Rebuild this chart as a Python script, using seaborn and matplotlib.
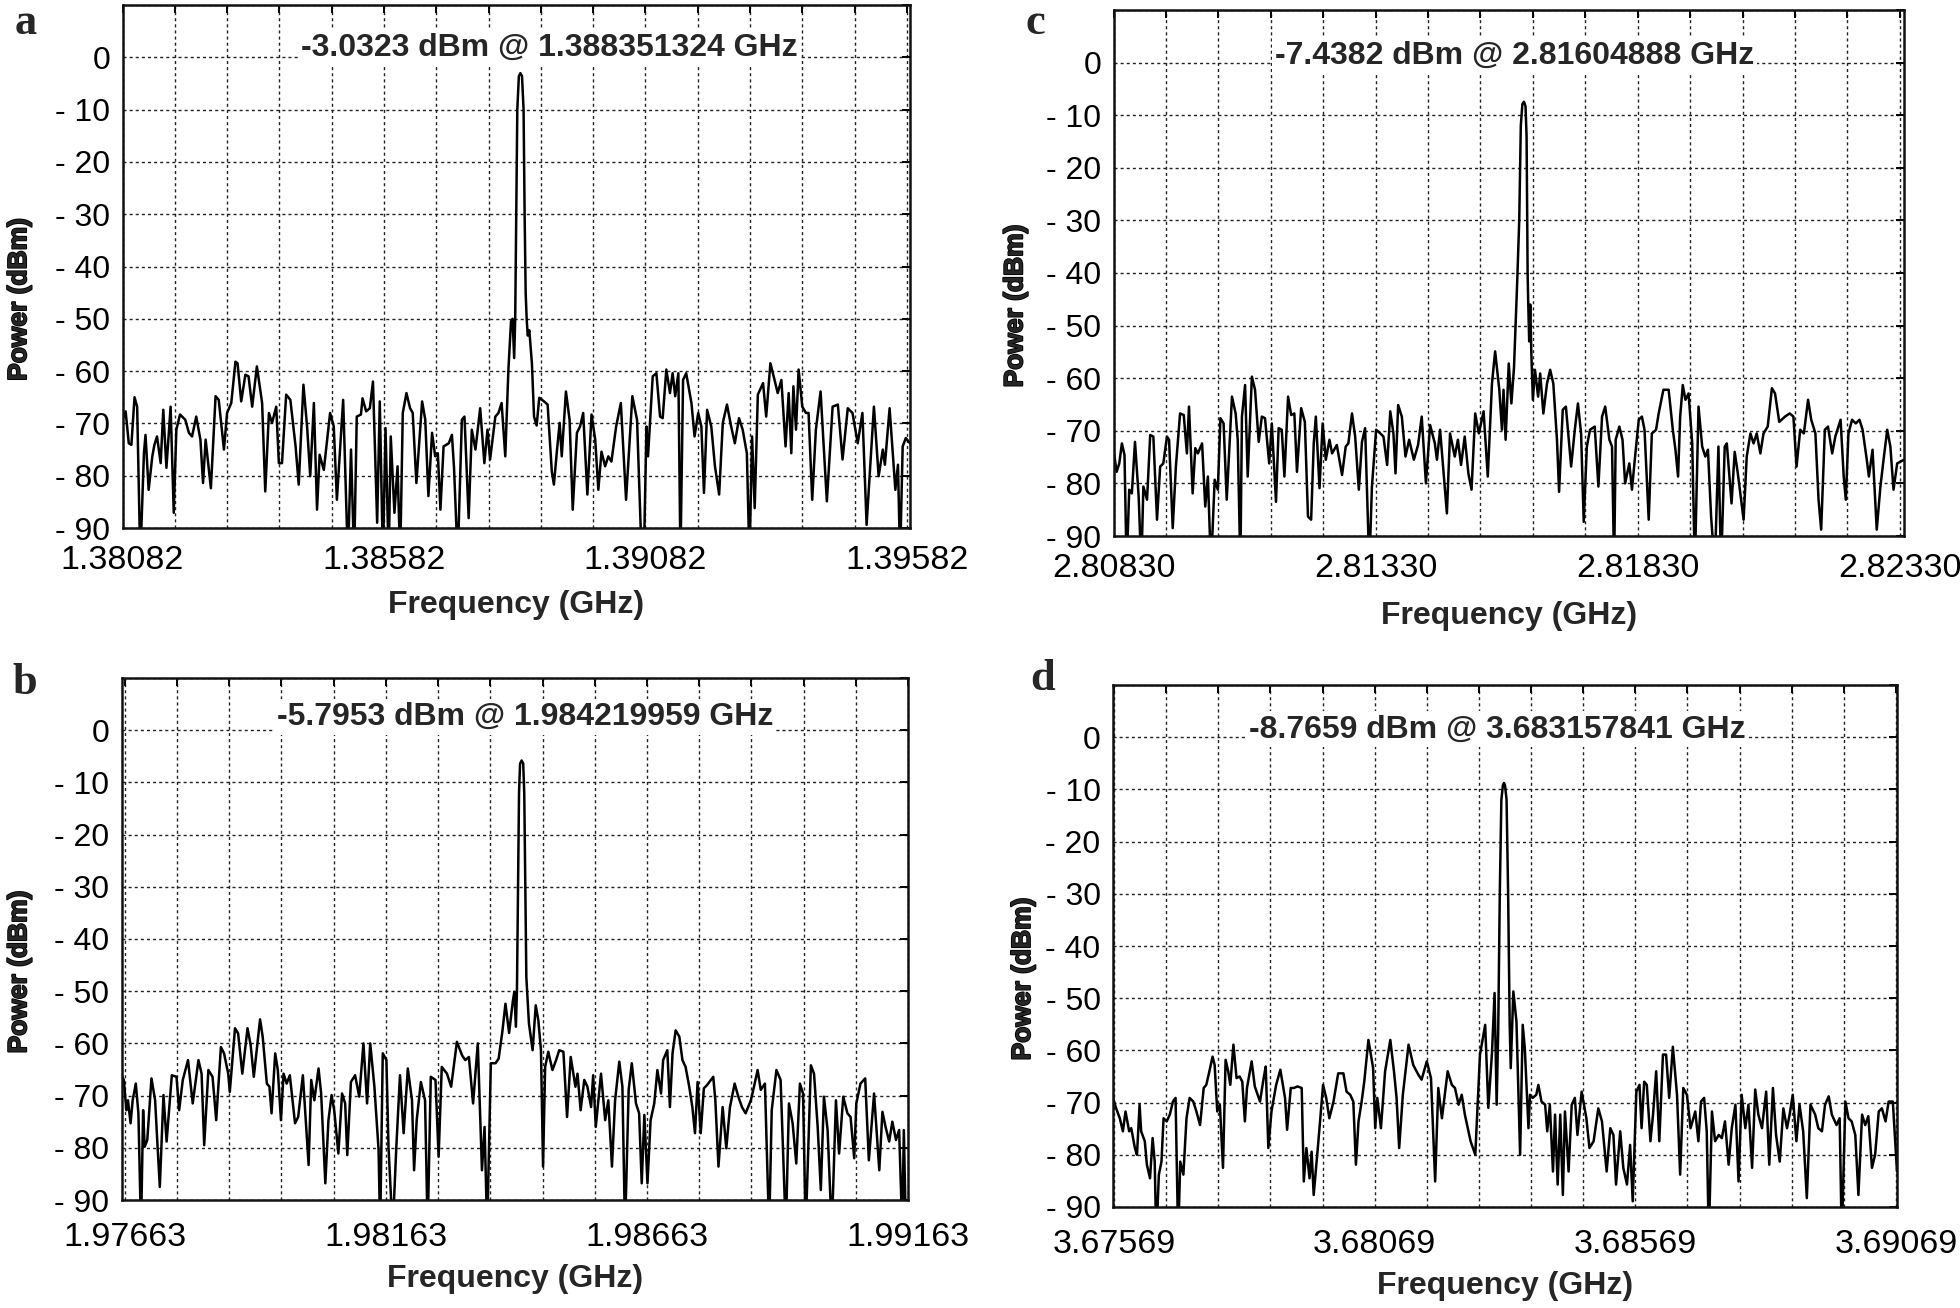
import numpy as np
import matplotlib
matplotlib.use("Agg")
import matplotlib.pyplot as plt
import matplotlib.patheffects as pe
import seaborn as sns

# start frequency of each span (GHz); trace offsets are in MHz from that start
start_a = 1.38082
start_b = 1.97663
start_c = 2.80830
start_d = 3.67569

label_a = "-3.0323 dBm @ 1.388351324 GHz"
label_b = "-5.7953 dBm @ 1.984219959 GHz"
label_c = "-7.4382 dBm @ 2.81604888 GHz"
label_d = "-8.7659 dBm @ 3.683157841 GHz"

# (offset MHz, power dBm); -96 = dip below the -90 floor
trace_a = [
    (0.00, -69.3), (0.06, -67.7), (0.12, -73.8), (0.17, -74.1), (0.23, -65.0), (0.28, -66.8),
    (0.34, -96), (0.41, -75.7), (0.44, -72.2), (0.50, -82.7), (0.57, -76.3), (0.61, -74.1),
    (0.66, -72.5), (0.73, -77.6), (0.78, -67.4), (0.84, -78.5), (0.92, -66.8), (0.98, -87.1),
    (1.03, -71.2), (1.10, -68.3), (1.20, -69.3), (1.27, -71.8), (1.33, -72.5), (1.41, -68.7),
    (1.49, -73.1), (1.54, -81.4), (1.59, -73.1), (1.63, -76.9), (1.69, -82.4), (1.78, -64.8),
    (1.84, -65.5), (1.94, -75.0), (2.00, -68.0), (2.08, -66.1), (2.16, -58.2), (2.20, -58.5),
    (2.27, -65.8), (2.35, -60.7), (2.41, -61.0), (2.48, -66.8), (2.57, -59.1), (2.67, -66.1),
    (2.73, -83.0), (2.80, -68.0), (2.86, -69.9), (2.94, -66.8), (2.99, -77.6), (3.05, -77.6),
    (3.13, -64.5), (3.21, -65.5), (3.31, -74.4), (3.37, -81.7), (3.46, -62.6), (3.53, -70.6),
    (3.59, -80.1), (3.66, -66.1), (3.72, -86.5), (3.77, -76.0), (3.85, -78.9), (3.90, -74.4),
    (3.97, -68.0), (4.04, -70.6), (4.10, -84.6), (4.22, -65.5), (4.31, -96), (4.37, -75.0),
    (4.43, -96), (4.48, -68.7), (4.56, -68.3), (4.59, -65.2), (4.66, -67.7), (4.73, -67.1),
    (4.79, -62.0), (4.87, -89.0), (4.92, -65.8), (4.98, -96), (5.03, -70.9), (5.09, -96),
    (5.13, -72.5), (5.20, -87.1), (5.26, -78.2), (5.31, -96), (5.36, -68.0), (5.43, -64.2),
    (5.50, -67.1), (5.55, -68.0), (5.62, -81.4), (5.73, -65.8), (5.79, -69.3), (5.85, -83.9),
    (5.92, -71.8), (5.98, -76.3), (6.03, -75.7), (6.08, -86.5), (6.14, -74.4), (6.24, -73.8),
    (6.30, -72.2), (6.34, -78.5), (6.41, -96), (6.49, -69.3), (6.54, -68.7), (6.62, -88.1),
    (6.68, -71.2), (6.75, -75.0), (6.84, -67.1), (6.92, -77.6), (6.98, -71.2), (7.03, -76.9),
    (7.13, -68.7), (7.19, -68.0), (7.25, -66.1), (7.32, -76.3), (7.38, -59.7), (7.43, -50.5),
    (7.46, -50.0), (7.49, -57.5), (7.51, -50.0), (7.53, -30.0), (7.55, -10.0), (7.58, -3.6),
    (7.61, -3.03), (7.64, -3.6), (7.67, -10.0), (7.69, -30.0), (7.71, -45.0), (7.73, -50.2),
    (7.75, -53.2), (7.78, -52.2), (7.83, -58.6), (7.87, -68.7), (7.92, -70.4), (7.97, -65.1),
    (8.05, -65.7), (8.13, -66.4), (8.21, -79.2), (8.25, -81.7), (8.31, -75.0), (8.36, -69.9),
    (8.40, -76.3), (8.48, -63.9), (8.55, -69.3), (8.61, -86.5), (8.69, -71.8), (8.75, -70.6),
    (8.81, -68.0), (8.89, -83.6), (8.97, -68.3), (9.04, -73.1), (9.10, -82.7), (9.16, -75.4),
    (9.23, -78.2), (9.29, -76.3), (9.35, -77.3), (9.44, -70.6), (9.53, -66.1), (9.63, -84.6),
    (9.75, -64.8), (9.84, -69.3), (9.93, -96), (9.97, -96), (10.02, -70.6), (10.05, -76.3),
    (10.14, -61.0), (10.21, -60.4), (10.28, -68.7), (10.33, -69.0), (10.40, -59.7), (10.47, -64.2),
    (10.52, -60.4), (10.57, -64.8), (10.63, -60.4), (10.67, -96), (10.72, -61.7), (10.78, -60.4),
    (10.88, -66.1), (10.94, -72.5), (11.01, -68.0), (11.07, -70.6), (11.12, -83.3), (11.18, -67.4),
    (11.26, -70.6), (11.33, -78.2), (11.41, -83.6), (11.48, -69.9), (11.56, -66.4), (11.64, -70.6),
    (11.71, -73.8), (11.79, -69.0), (11.86, -71.2), (11.94, -75.7), (11.99, -96), (12.04, -72.5),
    (12.09, -86.2), (12.15, -64.5), (12.25, -62.3), (12.31, -68.7), (12.39, -58.5), (12.47, -61.7),
    (12.53, -64.2), (12.60, -61.7), (12.68, -74.4), (12.74, -64.2), (12.79, -75.7), (12.83, -62.9),
    (12.88, -71.2), (12.93, -59.7), (13.00, -66.8), (13.07, -68.0), (13.12, -68.0), (13.19, -84.6),
    (13.26, -71.2), (13.35, -63.9), (13.47, -84.9), (13.58, -66.8), (13.68, -66.4), (13.77, -76.9),
    (13.87, -67.1), (13.96, -68.0), (14.06, -73.8), (14.15, -68.0), (14.23, -89.4), (14.37, -66.8),
    (14.46, -80.1), (14.54, -75.0), (14.58, -77.9), (14.67, -67.1), (14.78, -82.7), (14.83, -77.9),
    (14.87, -96), (14.92, -74.4), (14.98, -72.8), (15.06, -73.8),
]

trace_b = [
    (-0.06, -66.1), (-0.02, -67.0), (0.03, -72.8), (0.06, -70.9), (0.11, -75.3), (0.15, -70.9),
    (0.21, -67.7), (0.26, -73.4), (0.31, -96), (0.35, -72.8), (0.38, -79.8), (0.43, -78.5),
    (0.51, -66.7), (0.58, -70.9), (0.62, -78.5), (0.67, -87.5), (0.74, -69.9), (0.80, -78.8),
    (0.90, -66.1), (0.99, -66.4), (1.04, -72.8), (1.11, -67.0), (1.21, -63.2), (1.30, -71.5),
    (1.41, -63.2), (1.47, -65.8), (1.52, -79.5), (1.60, -65.1), (1.68, -66.4), (1.75, -74.7),
    (1.84, -60.7), (1.90, -61.9), (1.98, -65.8), (2.01, -69.3), (2.11, -57.1), (2.17, -58.1),
    (2.25, -65.8), (2.35, -57.1), (2.41, -60.3), (2.47, -66.4), (2.59, -55.4), (2.64, -58.7),
    (2.72, -67.7), (2.77, -68.3), (2.81, -73.4), (2.88, -61.9), (2.93, -65.1), (2.99, -74.7),
    (3.04, -65.8), (3.10, -67.7), (3.16, -66.1), (3.26, -75.3), (3.32, -74.1), (3.41, -66.1),
    (3.52, -83.3), (3.57, -67.0), (3.63, -70.9), (3.71, -64.8), (3.76, -69.6), (3.84, -86.8),
    (3.90, -74.7), (3.96, -69.9), (4.01, -72.8), (4.09, -81.1), (4.16, -69.6), (4.22, -71.5),
    (4.26, -81.4), (4.33, -67.4), (4.41, -66.1), (4.49, -70.2), (4.57, -60.0), (4.64, -71.5),
    (4.70, -60.0), (4.78, -68.3), (4.86, -80.4), (4.89, -96), (4.94, -61.9), (5.01, -63.2),
    (5.05, -79.8), (5.13, -96), (5.20, -79.8), (5.27, -66.1), (5.34, -77.2), (5.42, -64.8),
    (5.50, -70.9), (5.54, -84.3), (5.59, -74.7), (5.67, -67.4), (5.75, -70.9), (5.80, -96),
    (5.86, -66.4), (5.95, -67.0), (6.01, -81.7), (6.07, -64.5), (6.17, -65.8), (6.25, -68.3),
    (6.36, -59.7), (6.46, -62.3), (6.52, -63.2), (6.59, -62.6), (6.67, -71.5), (6.76, -60.0),
    (6.84, -84.3), (6.89, -76.0), (6.94, -96), (7.01, -63.8), (7.10, -63.8), (7.16, -62.9),
    (7.23, -57.8), (7.29, -52.4), (7.36, -58.0), (7.43, -52.0), (7.46, -50.1), (7.49, -56.8),
    (7.51, -50.0), (7.53, -30.0), (7.55, -12.0), (7.57, -6.4), (7.60, -5.80), (7.63, -6.4),
    (7.65, -12.0), (7.67, -30.0), (7.69, -47.3), (7.74, -56.2), (7.81, -61.3), (7.87, -52.7),
    (7.92, -55.6), (7.97, -61.3), (8.01, -83.6), (8.05, -64.5), (8.11, -61.6), (8.19, -65.1),
    (8.26, -63.2), (8.32, -61.3), (8.40, -61.6), (8.47, -74.1), (8.54, -62.6), (8.63, -68.3),
    (8.67, -65.8), (8.73, -72.8), (8.80, -67.0), (8.86, -68.3), (8.93, -72.2), (8.97, -66.1),
    (9.02, -76.0), (9.12, -65.8), (9.20, -74.7), (9.26, -70.9), (9.33, -83.6), (9.39, -70.9),
    (9.47, -63.5), (9.53, -68.3), (9.58, -96), (9.65, -68.9), (9.71, -63.8), (9.79, -71.5),
    (9.85, -73.4), (9.90, -86.8), (9.95, -73.7), (10.01, -86.8), (10.07, -74.7), (10.14, -71.5),
    (10.20, -65.1), (10.27, -69.6), (10.31, -63.2), (10.39, -61.3), (10.44, -72.2), (10.49, -61.9),
    (10.55, -57.5), (10.62, -58.7), (10.68, -63.2), (10.74, -64.5), (10.81, -68.3), (10.87, -72.2),
    (10.92, -77.2), (10.97, -67.4), (11.03, -77.2), (11.09, -68.6), (11.15, -68.0), (11.27, -66.4),
    (11.31, -70.9), (11.37, -83.6), (11.45, -72.2), (11.52, -80.1), (11.59, -72.2), (11.68, -67.7),
    (11.75, -70.2), (11.82, -72.2), (11.89, -73.4), (11.99, -70.9), (12.05, -68.3), (12.12, -65.1),
    (12.18, -68.9), (12.26, -67.7), (12.34, -96), (12.39, -72.8), (12.48, -65.1), (12.56, -67.0),
    (12.66, -96), (12.72, -71.5), (12.79, -75.3), (12.86, -83.0), (12.93, -67.7), (12.99, -69.6),
    (13.04, -96), (13.14, -64.2), (13.20, -65.8), (13.27, -76.0), (13.33, -88.1), (13.39, -70.2),
    (13.46, -76.6), (13.54, -96), (13.62, -70.9), (13.68, -81.1), (13.76, -70.2), (13.84, -73.4),
    (13.90, -74.1), (13.97, -82.0), (14.01, -71.5), (14.09, -67.7), (14.18, -66.7), (14.25, -82.4),
    (14.35, -69.6), (14.45, -84.3), (14.51, -73.1), (14.57, -76.0), (14.64, -78.8), (14.70, -75.0),
    (14.77, -78.5), (14.83, -76.6), (14.89, -96), (14.92, -76.6), (14.96, -96),
]

trace_c = [
    (0.00, -73.6), (0.06, -77.8), (0.11, -76.2), (0.16, -72.4), (0.21, -74.6), (0.25, -96),
    (0.30, -81.2), (0.35, -81.9), (0.41, -72.1), (0.48, -82.5), (0.53, -96), (0.57, -80.6),
    (0.64, -83.1), (0.70, -70.8), (0.76, -71.1), (0.83, -86.9), (0.89, -76.8), (0.95, -76.2),
    (1.02, -71.1), (1.06, -71.7), (1.13, -88.5), (1.19, -76.8), (1.27, -66.7), (1.34, -67.0),
    (1.40, -74.3), (1.44, -65.4), (1.51, -81.9), (1.56, -73.3), (1.61, -74.3), (1.69, -72.4),
    (1.75, -84.4), (1.80, -78.7), (1.86, -96), (1.93, -79.3), (1.99, -81.2), (2.04, -67.6),
    (2.10, -68.6), (2.16, -83.1), (2.26, -63.5), (2.33, -66.7), (2.37, -71.7), (2.42, -96),
    (2.45, -67.3), (2.51, -61.3), (2.56, -78.7), (2.64, -59.7), (2.70, -62.2), (2.77, -72.1),
    (2.83, -67.3), (2.89, -67.6), (2.97, -76.2), (3.02, -68.6), (3.10, -83.5), (3.15, -69.5),
    (3.21, -69.8), (3.26, -78.7), (3.33, -63.5), (3.39, -67.0), (3.45, -66.7), (3.50, -77.8),
    (3.58, -65.7), (3.65, -68.3), (3.71, -86.3), (3.77, -86.9), (3.82, -72.4), (3.86, -67.3),
    (3.93, -80.9), (3.99, -68.6), (4.05, -75.5), (4.12, -71.7), (4.17, -74.3), (4.26, -72.7),
    (4.36, -78.4), (4.43, -73.0), (4.48, -72.4), (4.55, -66.7), (4.61, -71.1), (4.68, -81.2),
    (4.74, -72.1), (4.80, -69.5), (4.88, -96), (4.93, -80.6), (5.01, -69.8), (5.09, -70.5),
    (5.15, -71.1), (5.22, -76.5), (5.28, -66.3), (5.34, -70.5), (5.38, -78.1), (5.43, -65.1),
    (5.50, -67.3), (5.57, -74.9), (5.64, -71.7), (5.73, -75.5), (5.81, -72.7), (5.88, -67.3),
    (5.96, -80.0), (6.04, -68.9), (6.13, -72.4), (6.17, -75.5), (6.23, -69.8), (6.30, -78.4),
    (6.36, -85.7), (6.42, -70.5), (6.51, -74.9), (6.57, -71.7), (6.63, -76.5), (6.70, -71.1),
    (6.77, -78.1), (6.83, -81.2), (6.90, -66.7), (6.97, -70.5), (7.06, -66.3), (7.14, -78.7),
    (7.22, -61.0), (7.28, -54.9), (7.36, -62.2), (7.41, -69.8), (7.44, -62.2), (7.48, -71.7),
    (7.54, -57.2), (7.59, -64.8), (7.64, -58.0), (7.70, -42.0), (7.74, -30.0), (7.77, -12.0),
    (7.80, -7.9), (7.83, -7.44), (7.86, -8.3), (7.88, -14.0), (7.90, -40.0), (7.91, -45.0),
    (7.93, -53.0), (7.95, -46.0), (7.97, -55.0), (8.00, -64.1), (8.04, -58.4), (8.10, -63.5),
    (8.14, -59.1), (8.20, -66.7), (8.27, -61.0), (8.33, -58.4), (8.39, -61.0), (8.46, -71.7),
    (8.50, -81.6), (8.57, -66.0), (8.63, -65.4), (8.68, -71.1), (8.73, -76.8), (8.80, -69.8),
    (8.86, -64.8), (8.92, -70.5), (8.97, -87.3), (9.03, -73.0), (9.09, -69.8), (9.18, -69.2),
    (9.25, -80.6), (9.32, -67.3), (9.38, -65.4), (9.46, -71.7), (9.51, -73.0), (9.55, -96),
    (9.58, -71.7), (9.65, -69.2), (9.71, -71.7), (9.76, -80.0), (9.84, -76.2), (9.89, -81.2),
    (9.95, -74.9), (10.02, -67.9), (10.08, -67.3), (10.13, -69.8), (10.21, -86.9), (10.27, -70.5),
    (10.35, -69.8), (10.40, -66.7), (10.49, -62.2), (10.59, -62.2), (10.67, -69.8), (10.72, -73.6),
    (10.77, -78.7), (10.81, -67.3), (10.86, -61.3), (10.91, -64.1), (10.97, -62.9), (11.04, -72.4),
    (11.09, -96), (11.16, -65.4), (11.23, -73.0), (11.29, -74.9), (11.34, -73.6), (11.40, -86.3),
    (11.47, -96), (11.54, -73.0), (11.59, -96), (11.66, -73.0), (11.70, -72.4), (11.79, -83.8),
    (11.85, -74.0), (11.91, -78.1), (11.98, -83.8), (12.02, -86.9), (12.08, -74.9), (12.15, -70.5),
    (12.21, -72.4), (12.27, -70.5), (12.34, -74.3), (12.40, -70.5), (12.48, -69.2), (12.56, -61.9),
    (12.62, -62.9), (12.70, -68.3), (12.81, -67.3), (12.90, -66.7), (12.97, -67.3), (13.03, -76.8),
    (13.10, -69.8), (13.17, -70.5), (13.25, -64.1), (13.31, -67.9), (13.39, -70.5), (13.45, -83.1),
    (13.50, -88.8), (13.57, -69.8), (13.63, -69.2), (13.71, -74.3), (13.77, -71.1), (13.87, -67.9),
    (13.93, -78.7), (13.97, -83.1), (14.02, -70.5), (14.09, -67.9), (14.16, -68.6), (14.23, -67.9),
    (14.29, -69.8), (14.37, -75.5), (14.41, -78.7), (14.48, -73.6), (14.56, -88.8), (14.63, -80.6),
    (14.69, -75.5), (14.76, -69.8), (14.82, -73.0), (14.88, -81.2), (14.95, -76.2), (15.08, -75.5),
]

trace_d = [
    (-0.02, -69.1), (0.04, -71.1), (0.11, -73.0), (0.17, -75.5), (0.22, -71.7), (0.29, -75.5),
    (0.33, -74.9), (0.40, -78.7), (0.44, -80.0), (0.49, -70.4), (0.52, -75.5), (0.59, -77.4),
    (0.63, -81.9), (0.69, -84.5), (0.74, -76.8), (0.78, -81.3), (0.81, -96), (0.86, -83.8),
    (0.91, -81.3), (0.95, -73.0), (1.01, -73.6), (1.07, -72.3), (1.13, -69.8), (1.18, -69.1),
    (1.23, -96), (1.27, -81.3), (1.33, -83.8), (1.39, -73.0), (1.45, -69.1), (1.52, -69.8),
    (1.58, -71.7), (1.65, -74.3), (1.72, -67.2), (1.77, -66.6), (1.82, -64.4), (1.89, -61.2),
    (1.93, -62.8), (1.98, -71.7), (2.03, -70.4), (2.09, -82.5), (2.14, -61.8), (2.19, -64.0),
    (2.23, -66.6), (2.29, -58.9), (2.35, -65.3), (2.41, -65.0), (2.46, -66.0), (2.51, -73.6),
    (2.55, -67.2), (2.64, -62.1), (2.70, -66.9), (2.80, -69.8), (2.87, -65.3), (2.91, -63.1),
    (2.96, -78.7), (3.02, -71.7), (3.11, -66.6), (3.19, -63.7), (3.28, -69.1), (3.32, -75.2),
    (3.39, -67.2), (3.45, -67.2), (3.52, -66.9), (3.60, -67.2), (3.64, -85.1), (3.69, -78.7),
    (3.75, -84.5), (3.79, -79.4), (3.83, -87.7), (3.92, -77.4), (4.01, -66.6), (4.07, -69.1),
    (4.13, -73.0), (4.21, -69.8), (4.30, -64.4), (4.40, -64.4), (4.46, -67.9), (4.53, -68.5),
    (4.59, -69.8), (4.64, -81.9), (4.69, -73.6), (4.75, -69.8), (4.80, -66.0), (4.88, -58.0),
    (4.97, -63.4), (5.01, -74.9), (5.05, -69.1), (5.12, -74.9), (5.20, -64.0), (5.30, -58.0),
    (5.37, -64.0), (5.42, -69.1), (5.47, -78.7), (5.54, -68.5), (5.65, -58.9), (5.74, -62.8),
    (5.84, -64.7), (5.90, -65.6), (6.00, -62.1), (6.08, -65.3), (6.16, -85.1), (6.22, -67.2),
    (6.29, -73.0), (6.40, -64.0), (6.48, -66.6), (6.54, -67.2), (6.61, -70.4), (6.67, -68.5),
    (6.73, -72.3), (6.84, -77.4), (6.93, -80.0), (7.02, -60.8), (7.12, -55.1), (7.18, -71.0),
    (7.25, -60.5), (7.30, -49.0), (7.34, -70.4), (7.37, -56.0), (7.40, -30.0), (7.43, -12.0),
    (7.46, -9.2), (7.48, -8.77), (7.50, -9.2), (7.53, -12.0), (7.56, -30.0), (7.59, -55.0),
    (7.61, -63.4), (7.66, -48.7), (7.72, -54.5), (7.79, -80.0), (7.84, -55.1), (7.88, -59.6),
    (7.95, -74.9), (7.98, -68.5), (8.03, -69.1), (8.10, -68.5), (8.14, -66.6), (8.20, -69.8),
    (8.27, -70.4), (8.31, -75.5), (8.36, -70.4), (8.42, -83.2), (8.46, -72.3), (8.51, -85.7),
    (8.56, -72.3), (8.61, -87.7), (8.65, -71.7), (8.72, -83.2), (8.78, -70.4), (8.84, -69.1),
    (8.89, -76.2), (8.97, -67.9), (9.06, -72.9), (9.12, -78.7), (9.20, -77.4), (9.29, -71.1),
    (9.36, -73.6), (9.42, -80.0), (9.45, -83.2), (9.52, -74.9), (9.58, -76.2), (9.63, -85.7),
    (9.71, -75.5), (9.77, -82.5), (9.84, -85.7), (9.90, -78.1), (9.95, -88.9), (10.02, -67.9),
    (10.08, -66.6), (10.12, -74.9), (10.17, -66.0), (10.22, -66.6), (10.29, -77.4), (10.34, -72.3),
    (10.40, -64.0), (10.46, -77.4), (10.53, -60.8), (10.59, -60.8), (10.65, -69.1), (10.72, -59.3),
    (10.80, -68.5), (10.86, -83.8), (10.92, -67.2), (10.99, -68.5), (11.06, -74.9), (11.15, -71.7),
    (11.21, -77.4), (11.26, -69.8), (11.32, -69.1), (11.37, -75.5), (11.41, -96), (11.47, -71.7),
    (11.53, -77.4), (11.60, -76.2), (11.66, -76.8), (11.72, -73.6), (11.79, -81.9), (11.85, -74.9),
    (11.92, -70.4), (11.98, -85.1), (12.04, -68.5), (12.11, -74.9), (12.17, -70.4), (12.24, -82.5),
    (12.30, -67.5), (12.36, -72.3), (12.43, -74.9), (12.51, -67.9), (12.57, -81.9), (12.64, -67.2),
    (12.70, -76.2), (12.77, -81.3), (12.84, -71.1), (12.91, -74.9), (12.96, -72.3), (13.02, -68.5),
    (13.09, -77.4), (13.15, -70.4), (13.22, -75.5), (13.29, -88.3), (13.36, -70.4), (13.45, -72.3),
    (13.51, -74.9), (13.58, -75.5), (13.64, -70.4), (13.71, -68.8), (13.77, -72.3), (13.86, -74.3),
    (13.92, -73.0), (13.96, -96), (14.03, -69.8), (14.09, -73.0), (14.15, -73.6), (14.22, -76.2),
    (14.28, -87.7), (14.35, -72.3), (14.41, -74.3), (14.47, -72.6), (14.54, -82.5), (14.60, -80.0),
    (14.67, -71.7), (14.73, -71.1), (14.80, -73.6), (14.86, -69.8), (14.94, -69.8), (15.02, -83.2),
]

y_ticks = [-90, -80, -70, -60, -50, -40, -30, -20, -10, 0, 10]
y_tick_labels = ["- 90", "- 80", "- 70", "- 60", "- 50", "- 40", "- 30", "- 20", "- 10", "0", ""]

# layout in pixels of the 1960x1308 canvas
W, H = 1960, 1308
panels = [
    dict(letter="a", start=start_a, trace=trace_a, label=label_a, box=(122.5, 910, 5, 528),
         xlim=(0, 15.06), txt=(8.17, 1.8), tickpad=12, xlab=77, ylab=-0.116, let=(15, 34)),
    dict(letter="b", start=start_b, trace=trace_b, label=label_b, box=(121.7, 908, 678, 1200),
         xlim=(-0.06, 15.0), txt=(7.66, 2.5), tickpad=16, xlab=79, ylab=-0.115, let=(12, 694)),
    dict(letter="c", start=start_c, trace=trace_c, label=label_c, box=(1113.5, 1904, 10, 536),
         xlim=(0, 15.08), txt=(7.65, 1.2), tickpad=12, xlab=80, ylab=-0.109, let=(1025, 34)),
    dict(letter="d", start=start_d, trace=trace_d, label=label_d, box=(1113, 1897, 685, 1207),
         xlim=(-0.02, 15.02), txt=(7.35, 1.5), tickpad=16, xlab=79, ylab=-0.0995, let=(1030, 690)),
]

sns.set_style("white")
plt.rcParams["font.family"] = ["Liberation Sans", "DejaVu Sans"]

fig = plt.figure(figsize=(W / 100, H / 100), dpi=100)
heavy = [pe.withStroke(linewidth=1.3, foreground="black")]

for p in panels:
    l, r, t, b = p["box"]
    ax = fig.add_axes([l / W, 1 - b / H, (r - l) / W, (b - t) / H])
    off, pw = np.array(p["trace"]).T
    freq = p["start"] + off / 1000.0
    sns.lineplot(x=freq, y=pw, ax=ax, color="black", linewidth=1.8,
                 estimator=None, sort=False)

    ax.set_xlim(p["start"] + p["xlim"][0] / 1000.0, p["start"] + p["xlim"][1] / 1000.0)
    ax.set_ylim(-90, 10)

    xt = [p["start"] + k / 1000.0 for k in range(16)]
    xl = ["%.5f" % (p["start"] + k / 1000.0) if k % 5 == 0 else "" for k in range(16)]
    ax.set_xticks(xt)
    ax.set_xticklabels(xl)
    ax.set_yticks(y_ticks)
    ax.set_yticklabels(y_tick_labels)

    ax.tick_params(axis="both", direction="in", length=6, width=1.4, colors="black",
                   top=True, right=True)
    ax.tick_params(axis="x", pad=p["tickpad"], labelsize=24.5)
    ax.tick_params(axis="y", pad=9, labelsize=23)

    ax.grid(True, color="#222222", linestyle=(0, (2.2, 2.2)), linewidth=1.0)
    ax.set_axisbelow(True)
    for s in ax.spines.values():
        s.set_linewidth(1.8)
        s.set_color("#111111")

    ax.set_xlabel("Frequency (GHz)", fontsize=23, fontweight="bold")
    ax.set_ylabel("Power (dBm)", fontsize=19, fontweight="bold", path_effects=heavy)
    ax.xaxis.set_label_coords(0.5, -p["xlab"] / (b - t))
    ax.xaxis.label.set_va("center")
    ax.yaxis.set_label_coords(p["ylab"], 0.5 - 33 / (b - t))

    ax.text(p["start"] + p["txt"][0] / 1000.0, p["txt"][1], p["label"], ha="center",
            va="center", fontsize=23, fontweight="bold", zorder=5,
            bbox=dict(facecolor="white", edgecolor="none", pad=2))

    fig.text(p["let"][0] / W, 1 - p["let"][1] / H, p["letter"], ha="left", va="baseline",
             fontsize=32, fontweight="bold", family=["Liberation Serif", "DejaVu Serif"])

fig.savefig("out.png", dpi=100, facecolor="white")
